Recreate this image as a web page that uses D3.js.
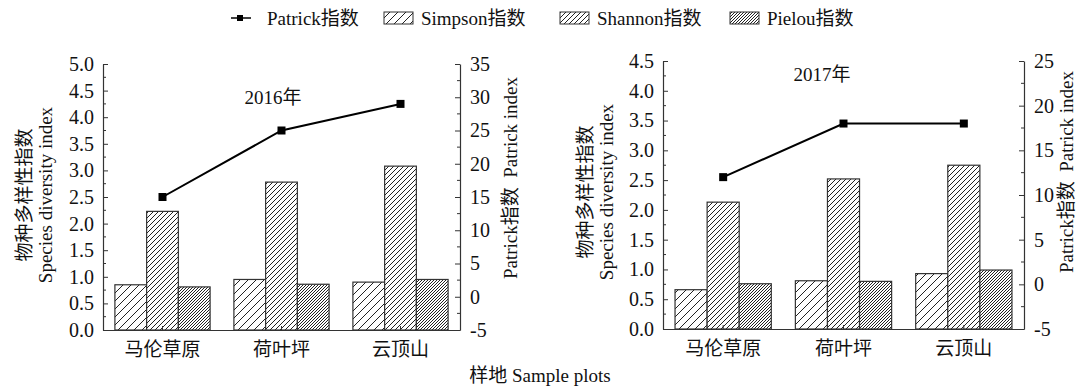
<!DOCTYPE html>
<html>
<head>
<meta charset="utf-8">
<title>物种多样性指数</title>
<script src="https://d3js.org/d3.v7.min.js"></script>
<style>
  body { margin: 0; background: #fff; }
  svg { display: block; }
  text { font-family: "Liberation Serif", "Noto Sans CJK SC", serif; fill: #111; }
</style>
</head>
<body>
<svg id="chart" width="1078" height="386"></svg>
<script>
// 样地
var sites = ['马伦草原', '荷叶坪', '云顶山'];
var years = ['2016年', '2017年'];

// 2016
var simpson2016 = [0.85, 0.95, 0.90];
var shannon2016 = [2.23, 2.78, 3.08];
var pielou2016  = [0.81, 0.86, 0.95];
var patrick2016 = [15, 25, 29];

// 2017
var simpson2017 = [0.66, 0.81, 0.93];
var shannon2017 = [2.13, 2.52, 2.75];
var pielou2017  = [0.76, 0.80, 0.99];
var patrick2017 = [12, 18, 18];

// 坐标轴刻度
var leftTicks2016  = [0, 0.5, 1, 1.5, 2, 2.5, 3, 3.5, 4, 4.5, 5];
var rightTicks2016 = [-5, 0, 5, 10, 15, 20, 25, 30, 35];
var leftTicks2017  = [0, 0.5, 1, 1.5, 2, 2.5, 3, 3.5, 4, 4.5];
var rightTicks2017 = [-5, 0, 5, 10, 15, 20, 25];

var barNames = ['Simpson指数', 'Shannon指数', 'Pielou指数'];

var FONT = '"Liberation Serif", "Noto Sans CJK SC", serif';
var svg = d3.select('#chart');

// 斜线填充
var defs = svg.append('defs');
function hatch(id, w, sw) {
  var p = defs.append('pattern')
    .attr('id', id)
    .attr('patternUnits', 'userSpaceOnUse')
    .attr('width', w).attr('height', w);
  p.append('rect').attr('width', w).attr('height', w).attr('fill', '#fff');
  p.append('path')
    .attr('d', 'M0,' + w + ' L' + w + ',0 M-1,1 L1,-1 M' + (w - 1) + ',' + (w + 1) + ' L' + (w + 1) + ',' + (w - 1))
    .attr('stroke', '#222').attr('stroke-width', sw);
}
hatch('hSimpson', 8, 1);
hatch('hShannon', 5, 1);
hatch('hPielou', 3, 1);
var fills = ['url(#hSimpson)', 'url(#hShannon)', 'url(#hPielou)'];

var panels = [
  { x0: 103, x1: 460, top: 64, bottom: 330, leftMax: 5, rightMin: -5, rightMax: 35,
    leftTicks: leftTicks2016, rightTicks: rightTicks2016,
    bars: [simpson2016, shannon2016, pielou2016], patrick: patrick2016, title: years[0],
    titleX: 273, titleY: 104, cnX: 24, enX: 45, labelY: 195, rX: 510, rY: 178 },
  { x0: 663, x1: 1024, top: 61, bottom: 329, leftMax: 4.5, rightMin: -5, rightMax: 25,
    leftTicks: leftTicks2017, rightTicks: rightTicks2017,
    bars: [simpson2017, shannon2017, pielou2017], patrick: patrick2017, title: years[1],
    titleX: 822, titleY: 81, cnX: 585, enX: 606, labelY: 192, rX: 1066, rY: 172 }
];

panels.forEach(function(p) {
  var g = svg.append('g');

  var x = d3.scaleBand().domain(sites).range([p.x0, p.x1]).paddingInner(0.2).paddingOuter(0.1);
  var xs = d3.scaleBand().domain(d3.range(3)).range([0, x.bandwidth()]);
  var y = d3.scaleLinear().domain([0, p.leftMax]).range([p.bottom, p.top]);
  var y2 = d3.scaleLinear().domain([p.rightMin, p.rightMax]).range([p.bottom, p.top]);

  // 柱子
  p.bars.forEach(function(vals, k) {
    g.selectAll(null).data(vals).enter().append('rect')
      .attr('x', function(d, i) { return x(sites[i]) + xs(k); })
      .attr('y', function(d) { return y(d); })
      .attr('width', xs.bandwidth())
      .attr('height', function(d) { return y(0) - y(d); })
      .attr('fill', fills[k])
      .attr('stroke', '#333').attr('stroke-width', 1.2);
  });

  // 左轴 (刻度朝内)
  var leftAxis = d3.axisLeft(y).tickValues(p.leftTicks).tickFormat(d3.format('.1f'))
    .tickSizeInner(-5).tickSizeOuter(0).tickPadding(9);
  var la = g.append('g').attr('transform', 'translate(' + p.x0 + ',0)').call(leftAxis);
  var leftMinor = p.leftTicks.slice(1).map(function(t) { return t - 0.25; });
  g.selectAll(null).data(leftMinor).enter().append('line')
    .attr('x1', p.x0).attr('x2', p.x0 + 3)
    .attr('y1', function(d) { return y(d); }).attr('y2', function(d) { return y(d); })
    .attr('stroke', '#333');

  // 右轴
  var rightAxis = d3.axisRight(y2).tickValues(p.rightTicks).tickFormat(function(d) { return String(d); })
    .tickSizeInner(-5).tickSizeOuter(0).tickPadding(10);
  var ra = g.append('g').attr('transform', 'translate(' + p.x1 + ',0)').call(rightAxis);
  var rightMinor = p.rightTicks.slice(1).map(function(t) { return t - 2.5; });
  g.selectAll(null).data(rightMinor).enter().append('line')
    .attr('x1', p.x1).attr('x2', p.x1 - 3)
    .attr('y1', function(d) { return y2(d); }).attr('y2', function(d) { return y2(d); })
    .attr('stroke', '#333');

  // 底轴
  var bottomAxis = d3.axisBottom(x).tickSizeInner(-4).tickSizeOuter(0).tickPadding(12);
  var ba = g.append('g').attr('transform', 'translate(0,' + p.bottom + ')').call(bottomAxis);

  [la, ra, ba].forEach(function(a) {
    a.attr('font-family', FONT).attr('font-size', 20);
    a.select('.domain').attr('stroke', '#333').attr('stroke-width', 1.2);
    a.selectAll('.tick line').attr('stroke', '#333');
    a.selectAll('text').attr('fill', '#111');
  });
  ba.attr('font-size', 19);
  ba.selectAll('text').attr('dy', '0.72em');

  // Patrick 折线
  var line = d3.line()
    .x(function(d, i) { return x(sites[i]) + x.bandwidth() / 2; })
    .y(function(d) { return y2(d); });
  g.append('path').datum(p.patrick)
    .attr('d', line).attr('fill', 'none').attr('stroke', '#000').attr('stroke-width', 2);
  g.selectAll(null).data(p.patrick).enter().append('rect')
    .attr('x', function(d, i) { return x(sites[i]) + x.bandwidth() / 2 - 4; })
    .attr('y', function(d) { return y2(d) - 4; })
    .attr('width', 8).attr('height', 8).attr('fill', '#000');

  // 年份
  g.append('text').attr('x', p.titleX).attr('y', p.titleY)
    .attr('text-anchor', 'middle').attr('font-size', 19).text(p.title);

  // 左轴标题
  g.append('text').attr('transform', 'translate(' + p.cnX + ',' + p.labelY + ') rotate(-90)')
    .attr('text-anchor', 'middle').attr('dy', '0.35em').attr('font-size', 19).text('物种多样性指数');
  g.append('text').attr('transform', 'translate(' + p.enX + ',' + p.labelY + ') rotate(-90)')
    .attr('text-anchor', 'middle').attr('dy', '0.35em').attr('font-size', 19).text('Species diversity index');

  // 右轴标题
  g.append('text').attr('transform', 'translate(' + p.rX + ',' + p.rY + ') rotate(-90)')
    .attr('text-anchor', 'middle').attr('dy', '0.35em').attr('font-size', 19)
    .attr('xml:space', 'preserve').text('Patrick指数  Patrick index');
});

// x 轴总标题
svg.append('text').attr('x', 540).attr('y', 382).attr('text-anchor', 'middle')
  .attr('font-size', 19).text('样地 Sample plots');

// 图例
var legend = svg.append('g').attr('transform', 'translate(0,18)');
legend.append('line').attr('x1', 231).attr('x2', 251).attr('y1', 0).attr('y2', 0)
  .attr('stroke', '#000').attr('stroke-width', 1.5);
legend.append('rect').attr('x', 237).attr('y', -3).attr('width', 6).attr('height', 6).attr('fill', '#000');
legend.append('text').attr('x', 267).attr('y', 0).attr('dy', '0.35em').attr('font-size', 19).text('Patrick指数');

var legendX = [384, 560, 730];
barNames.forEach(function(name, k) {
  legend.append('rect').attr('x', legendX[k]).attr('y', -6).attr('width', 29).attr('height', 12)
    .attr('fill', fills[k]).attr('stroke', '#333').attr('stroke-width', 1);
  legend.append('text').attr('x', legendX[k] + 37).attr('y', 0).attr('dy', '0.35em')
    .attr('font-size', 19).text(name);
});
</script>
</body>
</html>
